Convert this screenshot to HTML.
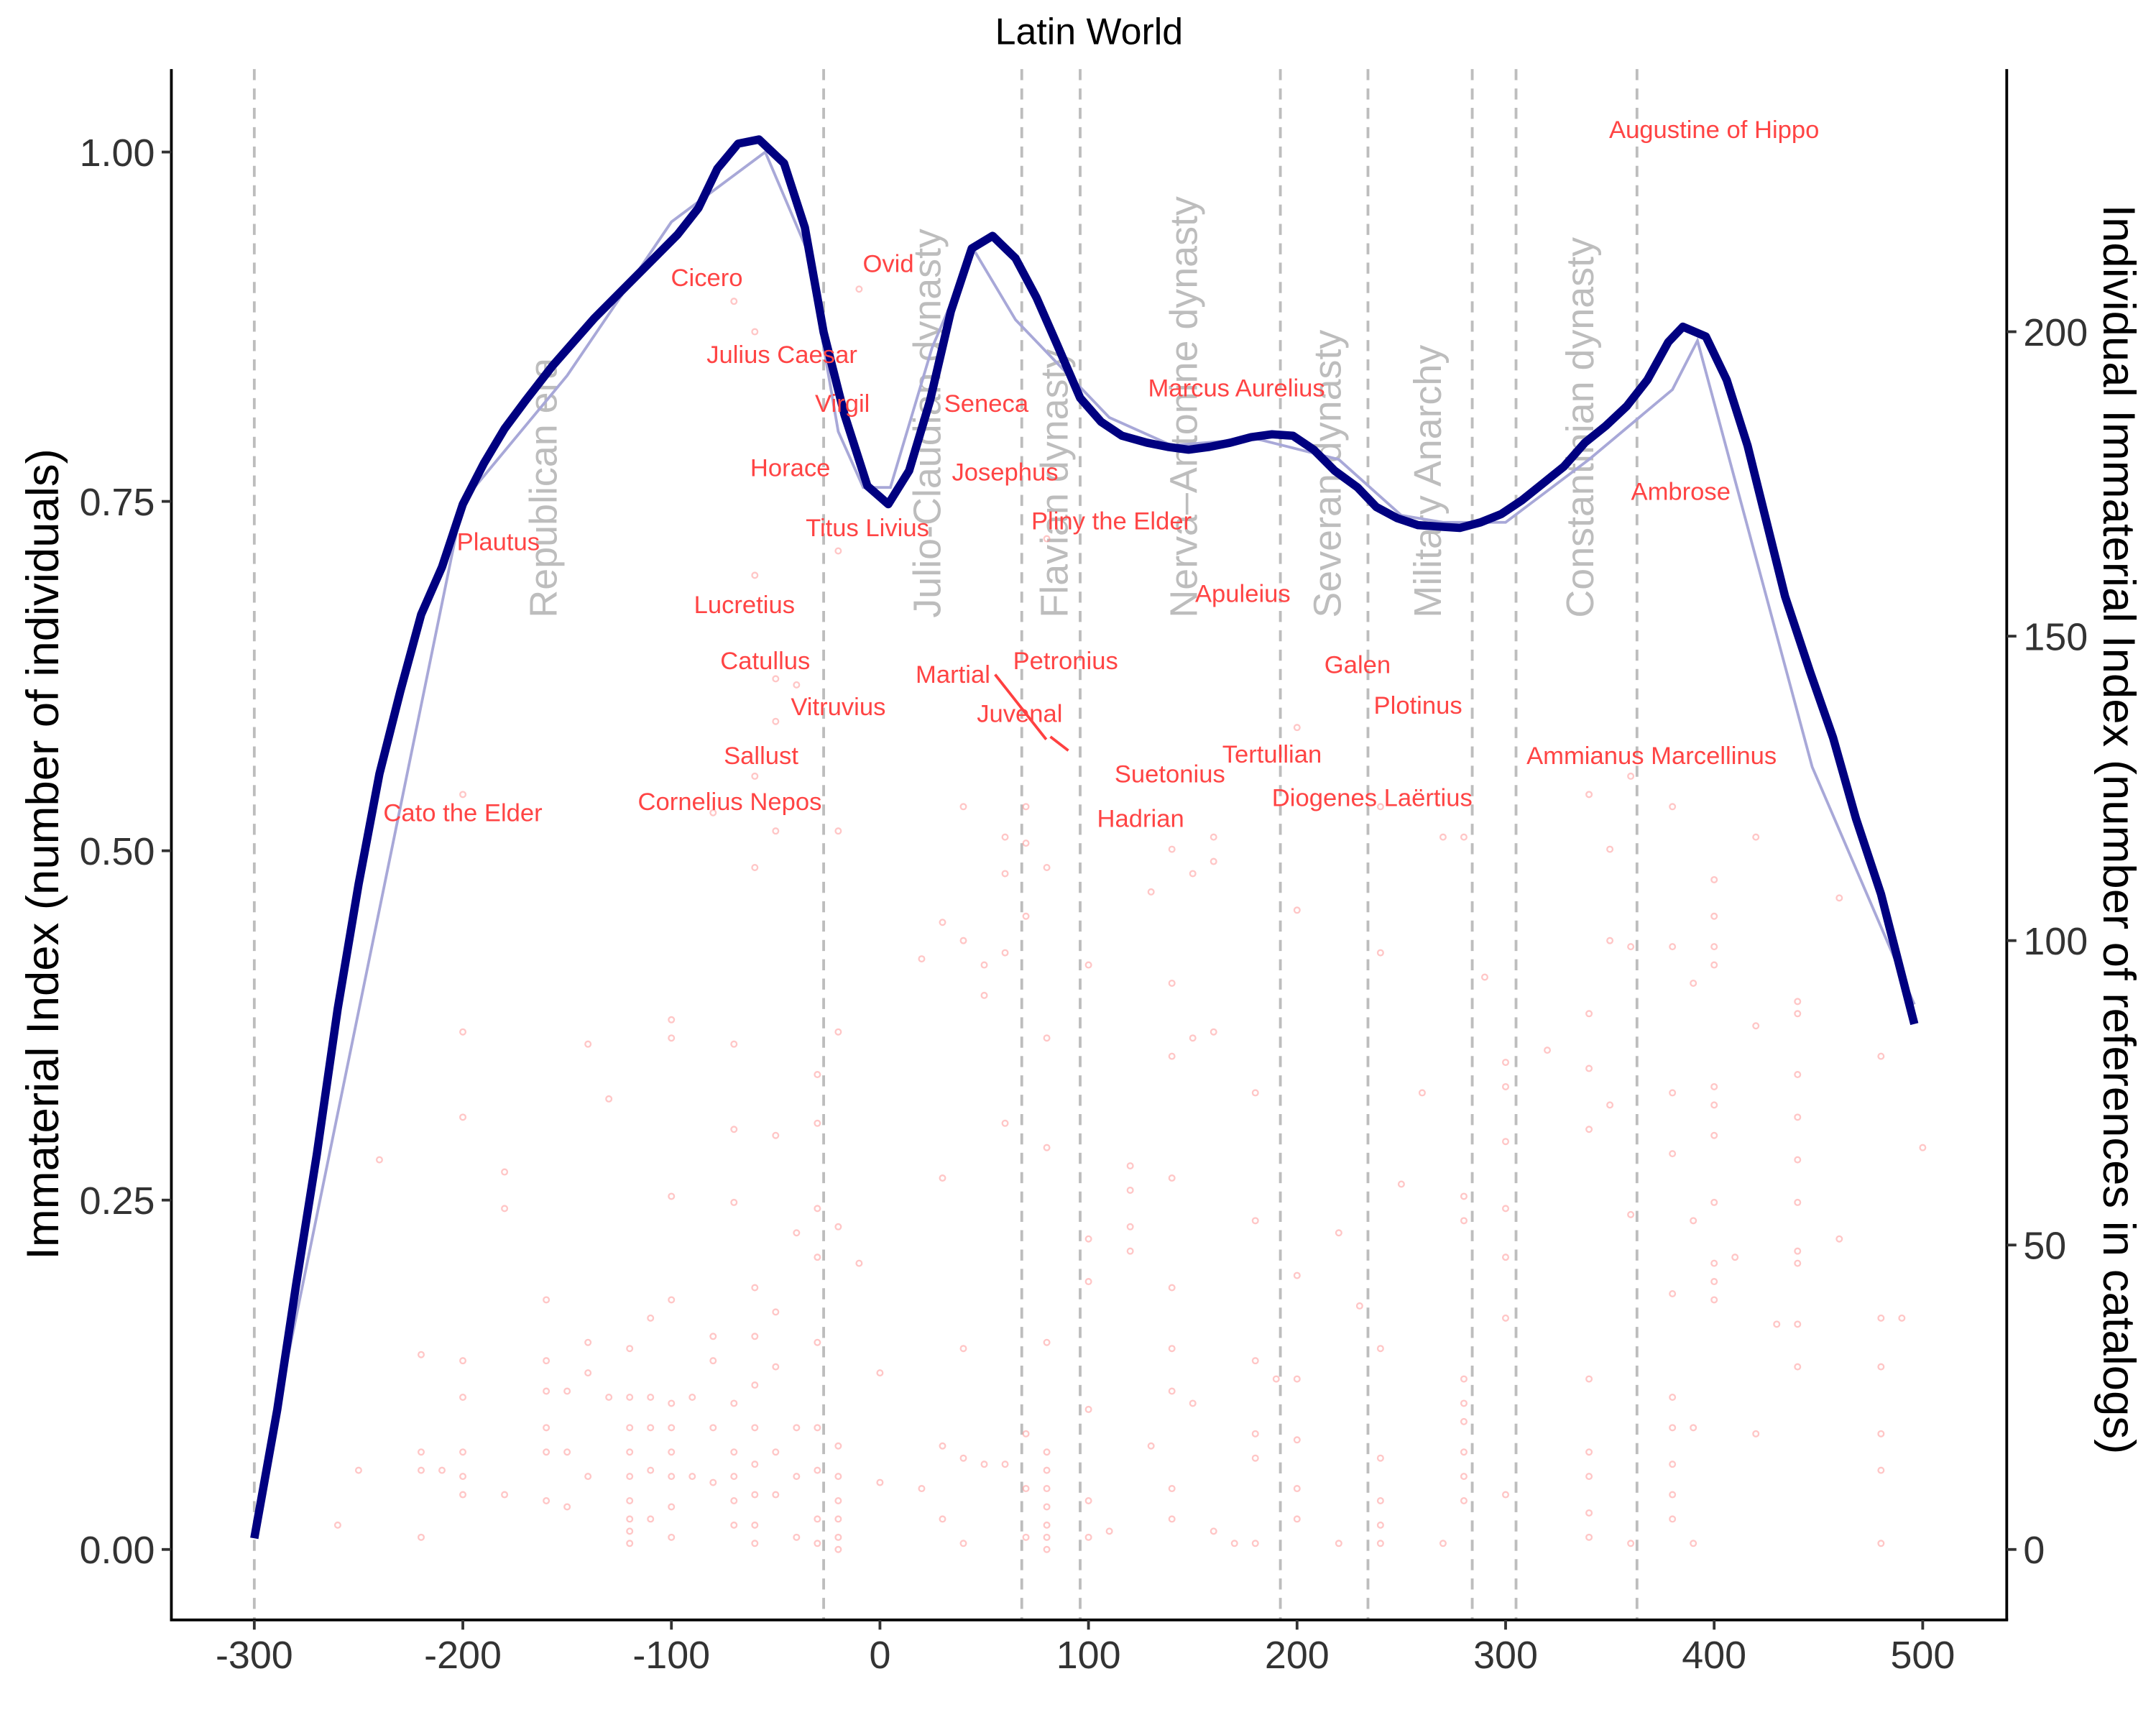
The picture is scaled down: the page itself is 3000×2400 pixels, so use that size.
<!DOCTYPE html>
<html><head><meta charset="utf-8"><style>
html,body{margin:0;padding:0;background:#fff}
svg{display:block}
text{font-family:"Liberation Sans",Arial,sans-serif}
</style></head><body>
<svg id="chart" width="3000" height="2400" viewBox="0 0 1560 1248" xmlns="http://www.w3.org/2000/svg">
<rect width="1560" height="1248" fill="#fff"/>
<text x="788" y="32" font-size="27" text-anchor="middle" fill="#000">Latin World</text>
<g id="dyn"></g>
<g id="dots"></g>
<g id="lines"></g>
<g id="labels"></g>
<g id="axes"></g>
<text transform="translate(42,618) rotate(-90)" font-size="33" text-anchor="middle" fill="#000">Immaterial Index (number of individuals)</text>
<text transform="translate(1522,600) rotate(90)" font-size="33" text-anchor="middle" fill="#000">Individual Immaterial Index (number of references in catalogs)</text>
</svg>
<script>
const NS="http://www.w3.org/2000/svg";
const xTicks=[-300,-200,-100,0,100,200,300,400,500];
const yTicksLeft=[0,0.25,0.5,0.75,1];
const yTicksLeftLabels=["0.00","0.25","0.50","0.75","1.00"];
const yTicksRight=[0,50,100,150,200];
const dynastyYears=[-300,-27,68,96,192,234,284,305,363];
const dynastyNames=["Republican era","Julio-Claudian dynasty","Flavian dynasty","Nerva–Antonine dynasty","Severan dynasty","Military Anarchy","Constantinian dynasty"];
const dynastyLabelYears=[-155,29,90,152,221,269,342];
const smoothYears=[-300,-289,-280,-270,-260,-250,-240,-230,-220,-210,-200,-190,-180,-170,-157,-137,-117,-97,-87,-78,-68,-58,-46,-36,-27,-17,-6,4,14,24,34,44,54,65,75,85,96,106,116,128,138,148,158,168,178,188,198,208,218,229,238,248,258,268,278,288,298,308,318,328,338,348,358,368,378,385,396,406,416,434,446,457,468,480,496];
const smoothVals=[0.008,0.100,0.189,0.283,0.387,0.476,0.555,0.614,0.669,0.703,0.748,0.777,0.802,0.822,0.847,0.881,0.911,0.941,0.960,0.988,1.006,1.009,0.992,0.946,0.871,0.812,0.761,0.748,0.772,0.822,0.886,0.931,0.940,0.924,0.896,0.862,0.824,0.807,0.797,0.792,0.789,0.787,0.789,0.792,0.796,0.798,0.797,0.787,0.772,0.760,0.746,0.738,0.733,0.732,0.731,0.735,0.741,0.751,0.763,0.775,0.792,0.804,0.818,0.837,0.864,0.875,0.868,0.837,0.790,0.682,0.628,0.581,0.523,0.469,0.376];
const rawYears=[-300,-200,-150,-100,-55,-35,-20,-8,5,25,45,65,110,140,180,220,250,270,300,340,380,392,447,496];
const rawVals=[0.02,0.75,0.84,0.95,1.0,0.93,0.80,0.76,0.76,0.86,0.93,0.88,0.81,0.79,0.795,0.78,0.74,0.735,0.735,0.78,0.83,0.865,0.56,0.39];
const authorNames=["Augustine of Hippo","Ovid","Cicero","Julius Caesar","Virgil","Seneca","Marcus Aurelius","Horace","Josephus","Plautus","Titus Livius","Pliny the Elder","Ambrose","Lucretius","Apuleius","Catullus","Petronius","Galen","Martial","Vitruvius","Juvenal","Plotinus","Sallust","Tertullian","Ammianus Marcellinus","Suetonius","Diogenes Laërtius","Cato the Elder","Cornelius Nepos","Hadrian"];
const authorYears=[400,4,-83,-47,-18,51,171,-43,60,-183,-6,111,384,-65,174,-55,89,229,35,-20,67,258,-57,188,370,139,236,-200,-72,125];
const authorScores=[1.016,0.92,0.91,0.855,0.82,0.82,0.831,0.774,0.771,0.721,0.731,0.736,0.757,0.676,0.684,0.636,0.636,0.633,0.626,0.603,0.598,0.604,0.568,0.569,0.568,0.555,0.538,0.527,0.535,0.523];
const dotYears=[-260,-250,-240,-220,-220,-220,-220,-210,-200,-200,-200,-200,-200,-200,-200,-200,-180,-180,-180,-160,-160,-160,-160,-160,-160,-150,-150,-150,-140,-140,-140,-140,-130,-130,-120,-120,-120,-120,-120,-120,-120,-120,-120,-110,-110,-110,-110,-110,-100,-100,-100,-100,-100,-100,-100,-100,-100,-100,-90,-90,-80,-80,-80,-80,-80,-70,-70,-70,-70,-70,-70,-70,-70,-70,-60,-60,-60,-60,-60,-60,-60,-60,-60,-60,-60,-60,-50,-50,-50,-50,-50,-50,-50,-50,-40,-40,-40,-40,-40,-30,-30,-30,-30,-30,-30,-30,-30,-30,-20,-20,-20,-20,-20,-20,-20,-20,-20,-20,-10,-10,0,0,20,20,30,30,30,30,40,40,40,40,40,50,50,50,60,60,60,60,60,70,70,70,70,70,70,80,80,80,80,80,80,80,80,80,80,80,80,100,100,100,100,100,100,110,120,120,120,120,130,130,140,140,140,140,140,140,140,140,140,150,150,150,160,160,160,160,170,180,180,180,180,180,180,190,200,200,200,200,200,200,200,220,220,230,240,240,240,240,240,240,240,250,260,270,270,280,280,280,280,280,280,280,280,280,290,300,300,300,300,300,300,300,320,340,340,340,340,340,340,340,340,340,350,350,350,360,360,360,360,380,380,380,380,380,380,380,380,380,380,390,390,390,390,400,400,400,400,400,400,400,400,400,400,400,410,420,420,420,430,440,440,440,440,440,440,440,440,440,440,460,460,480,480,480,480,480,480,490,500];
const dotVals=[4,13,64,2,13,16,32,13,9,12,16,25,31,71,85,124,9,56,62,8,16,20,26,31,41,7,16,26,12,29,34,83,25,74,1,3,5,8,12,16,20,25,33,5,13,20,25,38,2,7,12,16,20,24,41,58,84,87,12,25,11,20,31,35,121,4,8,12,16,24,57,69,83,205,1,4,9,14,20,27,35,43,112,127,160,200,9,16,30,39,68,118,136,143,2,12,20,52,142,1,5,13,20,34,48,56,70,78,0,2,5,8,12,17,53,85,118,164,47,207,11,29,10,97,5,17,61,103,1,15,33,100,122,14,91,96,14,70,98,111,117,2,10,19,104,116,122,0,2,4,7,10,13,16,34,66,84,112,166,2,8,23,44,51,96,3,49,53,59,63,17,108,5,10,26,33,43,61,81,93,115,24,84,111,3,85,113,117,1,1,15,19,31,54,75,28,5,10,18,28,45,105,135,1,52,40,1,4,8,15,33,98,122,60,75,1,117,8,12,16,21,24,28,54,58,117,94,9,38,48,56,67,76,80,82,2,6,12,16,28,69,79,88,124,73,100,115,1,55,99,127,5,9,14,20,25,42,65,75,99,122,1,20,54,93,41,44,47,57,68,73,76,96,99,104,110,48,19,86,117,37,30,37,47,49,57,64,71,78,88,90,51,107,1,13,19,30,38,81,38,66];

const X=y=>184+(y+300)*1.509;
const YL=v=>1121-v*1011;
const YR=v=>1121-v*4.405;
function el(tag,attrs,parent,text){const e=document.createElementNS(NS,tag);for(const k in attrs)e.setAttribute(k,attrs[k]);if(text!==undefined)e.textContent=text;parent.appendChild(e);return e;}

const dyn=document.getElementById('dyn');
dynastyYears.forEach((yr,i)=>{
  const l=el('line',{x1:X(yr),x2:X(yr),y1:50,y2:1172,stroke:'#bdbdbd','stroke-width':2,'stroke-dasharray':'8,6'},dyn);
  
  
});
dynastyNames.forEach((n,i)=>{
  const x=X(dynastyLabelYears[i]);
  const t=el('text',{transform:`translate(${x},447) rotate(-90)`,'font-size':28,fill:'#bdbdbd'},dyn,n);
  
  
});

const dots=document.getElementById('dots');
dotYears.forEach((yr,i)=>{
  const c=el('circle',{cx:X(yr),cy:YR(dotVals[i]),r:2,fill:'none',stroke:'#ff8080','stroke-opacity':0.45,'stroke-width':1.2},dots);
  
  
});

const lines=document.getElementById('lines');
const raw=el('polyline',{points:rawYears.map((y,i)=>X(y)+','+YL(rawVals[i])).join(' '),fill:'none',stroke:'#a8a8d8','stroke-width':2},lines);


const sm=el('polyline',{points:smoothYears.map((y,i)=>X(y)+','+YL(smoothVals[i])).join(' '),fill:'none',stroke:'#000080','stroke-width':6,'stroke-linejoin':'round'},lines);



const labels=document.getElementById('labels');
const seg1=el('line',{x1:720,y1:488,x2:757,y2:535,stroke:'#ff4040','stroke-width':2},labels);


const seg2=el('line',{x1:760,y1:533,x2:773,y2:543,stroke:'#ff4040','stroke-width':2},labels);


authorNames.forEach((n,i)=>{
  const t=el('text',{x:X(authorYears[i]),y:YL(authorScores[i])+6,'font-size':18,'text-anchor':'middle',fill:'#ff4444'},labels,n);
  
  
});

const axes=document.getElementById('axes');
const a1=el('line',{x1:124,x2:124,y1:50,y2:1172,stroke:'#000','stroke-width':2},axes);


const a2=el('line',{x1:1452,x2:1452,y1:50,y2:1172,stroke:'#000','stroke-width':2},axes);


const a3=el('line',{x1:123,x2:1453,y1:1172,y2:1172,stroke:'#000','stroke-width':2},axes);


xTicks.forEach(v=>{
  const tk=el('line',{x1:X(v),x2:X(v),y1:1172,y2:1179,stroke:'#333','stroke-width':2},axes);
  
  
  const t=el('text',{x:X(v),y:1207,'font-size':28,'text-anchor':'middle',fill:'#333'},axes,String(v));
  
  
});
yTicksLeft.forEach((v,i)=>{
  const tk=el('line',{x1:117,x2:124,y1:YL(v),y2:YL(v),stroke:'#333','stroke-width':2},axes);
  
  
  const t=el('text',{x:112,y:YL(v)+10,'font-size':28,'text-anchor':'end',fill:'#333'},axes,yTicksLeftLabels[i]);
  
  
});
yTicksRight.forEach(v=>{
  const tk=el('line',{x1:1452,x2:1459,y1:YR(v),y2:YR(v),stroke:'#333','stroke-width':2},axes);
  
  
  const t=el('text',{x:1464,y:YR(v)+10,'font-size':28,'text-anchor':'start',fill:'#333'},axes,String(v));
  
  
});
</script>
</body></html>
